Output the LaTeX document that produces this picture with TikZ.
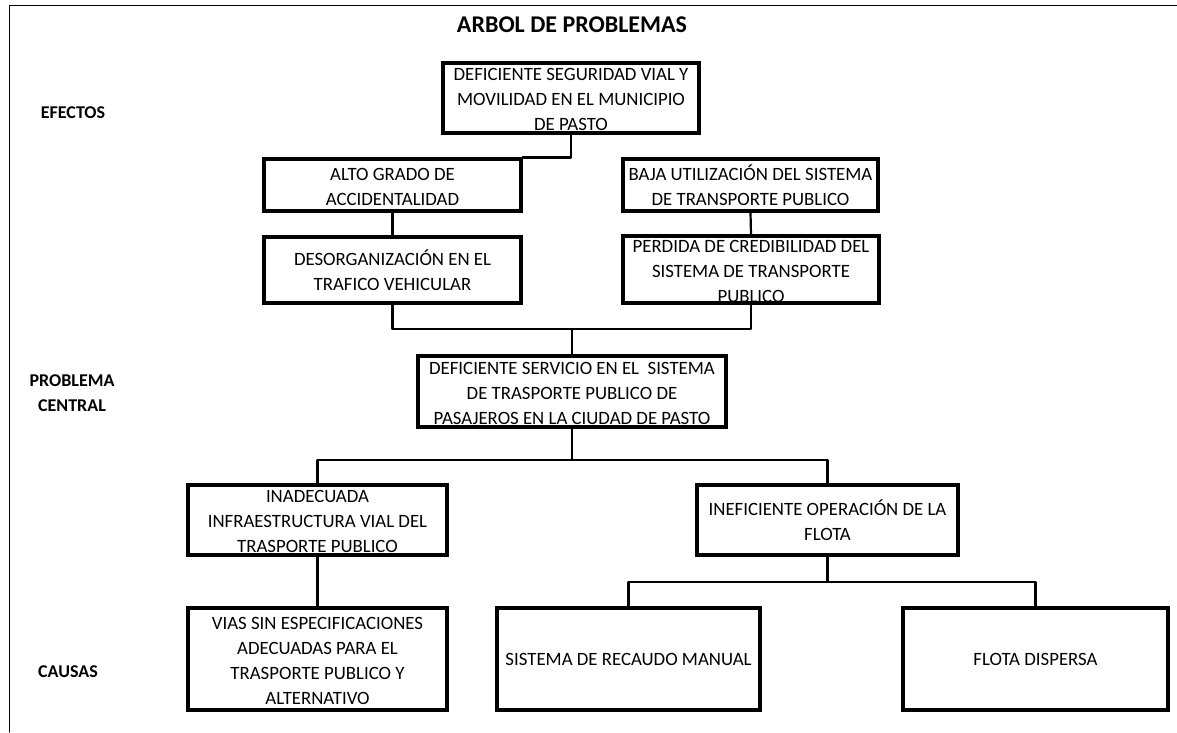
\documentclass[tikz,border=0pt]{standalone}
\usepackage{fontspec}
\setmainfont{Carlito}
\newcommand{\alto}{\rule{0pt}{16pt}}
\tikzset{
caja/.style={draw,line width=3.2pt,line join=miter,align=center,inner xsep=2pt,inner ysep=0pt,font=\fontsize{18.8}{25}\selectfont},
enlace/.style={line width=2.2pt},
rotulo/.style={align=center,font=\bfseries\fontsize{18}{25}\selectfont}
}
\begin{document}
\begin{tikzpicture}[line cap=round,line join=round,x=1pt,y=-1pt]
\useasboundingbox (0,0) rectangle (1177,732);
\draw [line width=1.pt] (9,732)-- (9,5)-- (1177,5);
\node (titulo) at (572,25) {\bfseries\fontsize{24}{28}\selectfont ARBOL DE PROBLEMAS};
\node[rotulo] (efectos) at (73,113) {EFECTOS};
\node[rotulo] (central) at (72,393) {PROBLEMA\\CENTRAL};
\node[rotulo] (causas) at (68,672) {CAUSAS};
\node[caja,minimum width=256,minimum height=70] (A) at (571,98) {\alto DEFICIENTE SEGURIDAD VIAL Y\\MOVILIDAD EN EL MUNICIPIO\\DE PASTO};
\node[caja,minimum width=257,minimum height=52] (B) at (392.5,185) {\alto ALTO GRADO DE\\ACCIDENTALIDAD};
\node[caja,minimum width=255,minimum height=52] (C) at (750.5,185) {\alto BAJA UTILIZACI\'ON DEL SISTEMA\\DE TRANSPORTE PUBLICO};
\node[caja,minimum width=257,minimum height=66] (D) at (392.5,270) {\alto DESORGANIZACI\'ON EN EL\\TRAFICO VEHICULAR};
\node[caja,minimum width=256,minimum height=67] (E) at (751,269.5) {\alto PERDIDA DE CREDIBILIDAD DEL\\SISTEMA DE TRANSPORTE\\PUBLICO};
\node[caja,minimum width=308,minimum height=71] (F) at (572,391.5) {\alto DEFICIENTE SERVICIO EN EL\ \ SISTEMA\\DE TRASPORTE PUBLICO DE\\PASAJEROS EN LA CIUDAD DE PASTO};
\node[caja,minimum width=259,minimum height=70] (G) at (317.5,520) {\alto INADECUADA\\INFRAESTRUCTURA VIAL DEL\\TRASPORTE PUBLICO};
\node[caja,minimum width=261,minimum height=70] (H) at (827.5,520) {\alto INEFICIENTE OPERACI\'ON DE LA\\FLOTA};
\node[caja,minimum width=259,minimum height=102] (I) at (317.5,659) {\alto VIAS SIN ESPECIFICACIONES\\ADECUADAS PARA EL\\TRASPORTE PUBLICO Y\\ALTERNATIVO};
\node[caja,minimum width=263,minimum height=102] (J) at (628.5,659) {SISTEMA DE RECAUDO MANUAL};
\node[caja,minimum width=265,minimum height=102] (K) at (1035.5,659) {FLOTA DISPERSA};
\coordinate (unionDE) at (572,329);
\coordinate (bajaF) at (572,460);
\coordinate (bajaH) at (827.5,582);
\draw [enlace] (A.south)-- (A.south |- B.north)-- (B.north east);
\draw [enlace] (B.south)-- (D.north);
\draw [enlace] (C.south)-- (E.north);
\draw [enlace] (D.south) |- (unionDE) -| (E.south);
\draw [enlace] (unionDE)-- (F.north);
\draw [enlace] (F.south)-- (bajaF);
\draw [enlace] (G.north) |- (bajaF) -| (H.north);
\draw [enlace] (G.south)-- (I.north);
\draw [enlace] (H.south)-- (bajaH);
\draw [enlace] (J.north) |- (bajaH) -| (K.north);
\end{tikzpicture}
\end{document}
